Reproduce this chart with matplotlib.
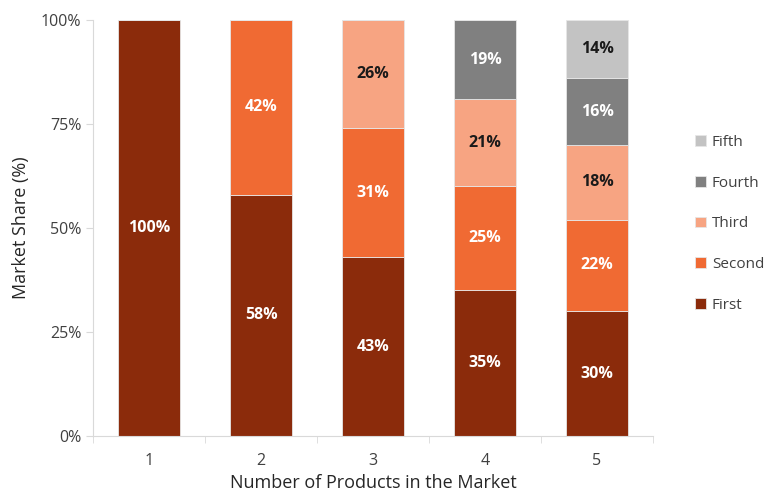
import matplotlib
matplotlib.use("Agg")
import matplotlib.pyplot as plt
import numpy as np

plt.rcParams['font.family'] = ['Open Sans', 'DejaVu Sans']

# data
categories = ['1', '2', '3', '4', '5']
series = ['First', 'Second', 'Third', 'Fourth', 'Fifth']
first = [100, 58, 43, 35, 30]
second = [0, 42, 31, 25, 22]
third = [0, 0, 26, 21, 18]
fourth = [0, 0, 0, 19, 16]
fifth = [0, 0, 0, 0, 14]
values = [first, second, third, fourth, fifth]

colors = ['#8B2B0B', '#F06A33', '#F7A482', '#808080', '#C3C3C3']
label_colors = ['white', 'white', '#1a1a1a', 'white', '#1a1a1a']

fig = plt.figure(figsize=(7.73, 4.97), dpi=100)
ax = fig.add_axes([0.1203, 0.1227, 0.7245, 0.8371])

x = np.arange(len(categories))
bottom = np.zeros(len(categories))
handles = []
for vals, name, col, lc in zip(values, series, colors, label_colors):
    vals = np.array(vals, dtype=float)
    bars = ax.bar(x, vals, 0.55, bottom=bottom, color=col, edgecolor='#E6E6E6',
                  linewidth=0.6, label=name)
    handles.append(bars)
    for xi, v, b in zip(x, vals, bottom):
        if v > 0:
            ax.text(xi, b + v / 2, f'{int(v)}%', ha='center', va='center',
                    color=lc, fontsize=11.5, fontweight='bold')
    bottom += vals

ax.set_xlim(-0.5, len(categories) - 0.5)
ax.set_ylim(0, 100)
ax.set_yticks([0, 25, 50, 75, 100])
ax.set_yticklabels(['0%', '25%', '50%', '75%', '100%'])
ax.set_xticks(x)
ax.set_xticklabels(categories)
ax.set_xticks(np.arange(-0.5, len(categories)), minor=True)
ax.tick_params(axis='x', which='major', length=0, pad=12, labelsize=11.5, labelcolor='#404040')
ax.tick_params(axis='x', which='minor', length=5, color='#D9D9D9')
ax.tick_params(axis='y', length=5, color='#D9D9D9', labelsize=11.5, labelcolor='#404040')

for s in ['top', 'right']:
    ax.spines[s].set_visible(False)
for s in ['left', 'bottom']:
    ax.spines[s].set_color('#D9D9D9')

ax.set_xlabel('Number of Products in the Market', fontsize=13, color='#262626', labelpad=4)
ax.set_ylabel('Market Share (%)', fontsize=13, color='#262626', labelpad=8)

ax.legend(handles[::-1], series[::-1], loc='center left', bbox_to_anchor=(1.075, 0.51),
          frameon=False, fontsize=11, labelspacing=1.68, handlelength=0.7,
          handleheight=0.7, handletextpad=0.4, labelcolor='#404040',
          borderaxespad=0, borderpad=0)

fig.savefig('out.png', dpi=100)
